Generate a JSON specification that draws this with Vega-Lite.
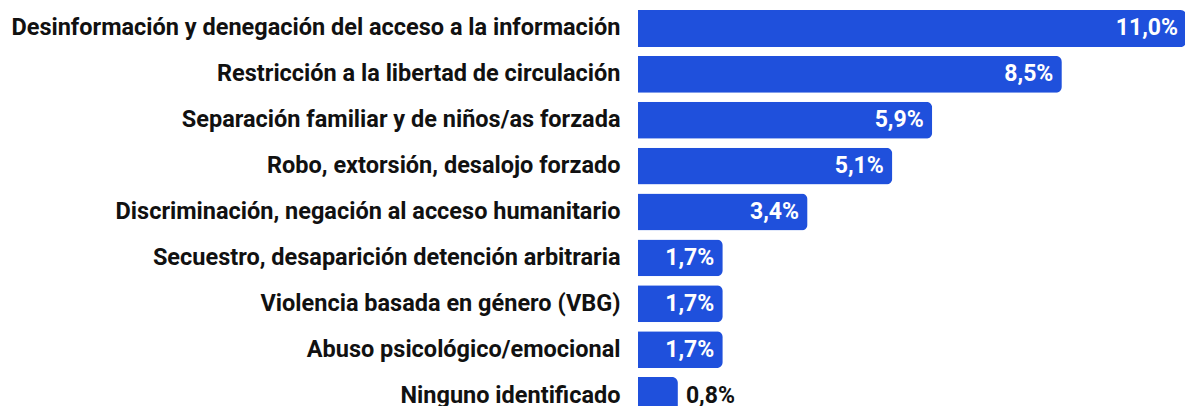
{
  "$schema": "https://vega.github.io/schema/vega-lite/v6.json",
  "autosize": {"type": "none"},
  "padding": {"left": 638, "top": 0, "right": 0, "bottom": 0},
  "width": 548.5,
  "height": 424,
  "background": "white",
  "data": {
    "values": [
      {"categoria": "Desinformación y denegación del acceso a la información", "valor": 11.0, "etiqueta": "11,0%"},
      {"categoria": "Restricción a la libertad de circulación", "valor": 8.5, "etiqueta": "8,5%"},
      {"categoria": "Separación familiar y de niños/as forzada", "valor": 5.9, "etiqueta": "5,9%"},
      {"categoria": "Robo, extorsión, desalojo forzado", "valor": 5.1, "etiqueta": "5,1%"},
      {"categoria": "Discriminación, negación al acceso humanitario", "valor": 3.4, "etiqueta": "3,4%"},
      {"categoria": "Secuestro, desaparición detención arbitraria", "valor": 1.7, "etiqueta": "1,7%"},
      {"categoria": "Violencia basada en género (VBG)", "valor": 1.7, "etiqueta": "1,7%"},
      {"categoria": "Abuso psicológico/emocional", "valor": 1.7, "etiqueta": "1,7%"},
      {"categoria": "Ninguno identificado", "valor": 0.8, "etiqueta": "0,8%"}
    ]
  },
  "encoding": {
    "y": {
      "field": "categoria",
      "type": "nominal",
      "sort": null,
      "scale": {"paddingInner": 0.194, "paddingOuter": 0.218},
      "axis": {
        "title": null,
        "domain": false,
        "ticks": false,
        "labelPadding": 18,
        "labelFontSize": 23.5,
        "labelFont": "Roboto",
        "labelFontWeight": "bold",
        "labelColor": "#111111",
        "labelLimit": 700
      }
    },
    "x": {
      "field": "valor",
      "type": "quantitative",
      "scale": {"domain": [0, 11], "nice": false},
      "axis": null
    }
  },
  "layer": [
    {
      "mark": {"type": "bar", "color": "#1f50dc", "cornerRadiusEnd": 6}
    },
    {
      "transform": [{"filter": "datum.valor >= 1"}],
      "mark": {"type": "text", "align": "right", "baseline": "middle", "dx": -8.5, "color": "white", "font": "Roboto", "fontWeight": "bold", "fontSize": 23},
      "encoding": {"text": {"field": "etiqueta"}}
    },
    {
      "transform": [{"filter": "datum.valor < 1"}],
      "mark": {"type": "text", "align": "left", "baseline": "middle", "dx": 8, "color": "#111111", "font": "Roboto", "fontWeight": "bold", "fontSize": 23},
      "encoding": {"text": {"field": "etiqueta"}}
    }
  ],
  "config": {"view": {"stroke": null}}
}
